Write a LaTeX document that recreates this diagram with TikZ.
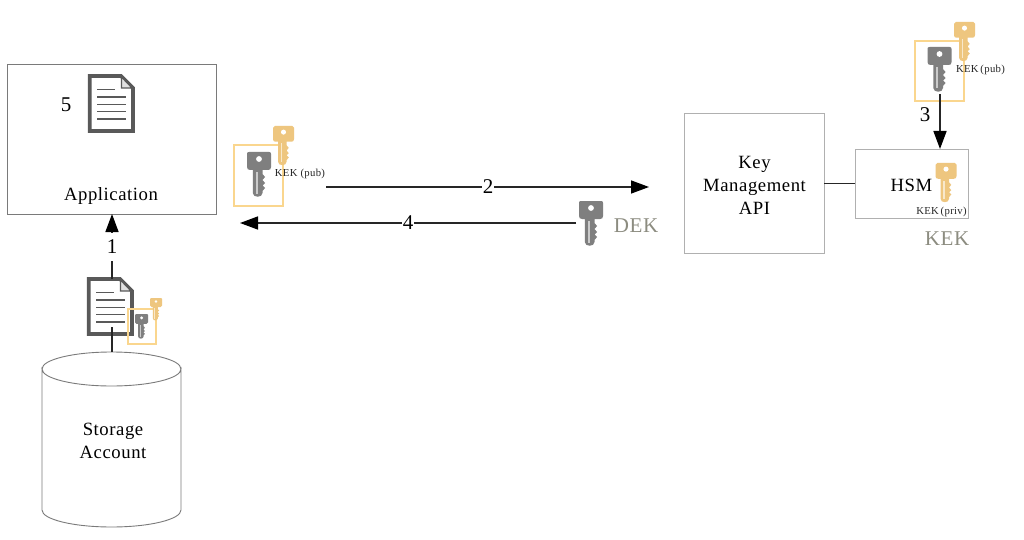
\documentclass[tikz,border=0pt]{standalone}
\usepackage{fontspec}
\setmainfont{Liberation Serif}[LetterSpace=3]
\usetikzlibrary{arrows.meta}
\definecolor{boxdark}{HTML}{7A7A7A}
\definecolor{boxlight}{HTML}{B0B0B0}
\definecolor{icondark}{HTML}{595959}
\definecolor{keygrey}{HTML}{7F7F7F}
\definecolor{keygold}{HTML}{EEC67F}
\definecolor{framegold}{HTML}{FAD68E}
\definecolor{dektext}{HTML}{8C8C80}
\tikzset{
  x=1pt,y=-1pt,
  every node/.style={inner sep=0pt,outer sep=0pt,align=center,text=black},
  mainlabel/.style={font=\fontsize{18.7}{23}\selectfont},
  steplabel/.style={font=\fontsize{21}{21}\selectfont,fill=white,inner xsep=1pt},
  smalllabel/.style={font=\fontsize{10.7}{11}\selectfont,text=black!85},
  greylabel/.style={font=\fontsize{21}{21}\selectfont,text=dektext},
  flow/.style={draw=black!85,line width=1.5pt,-{Triangle[length=18pt,width=13pt,color=black]}},
  plainline/.style={draw=black!85,line width=1.4pt},
  keyframe/.style={draw=framegold,line width=1.2pt},
  darkbox/.style={draw=boxdark,line width=.9pt,fill=white},
  lightbox/.style={draw=boxlight,line width=.9pt,fill=white},
  keyicon/.pic={
    \fill[pic actions] (2,0) -- (22,0) .. controls (23.5,0) and (24,0.5) .. (24,2)
      -- (24,15) .. controls (24,17) and (23,18) .. (21,18) -- (15.5,18)
      -- (15.5,22) -- (18,25) -- (15.5,28) -- (18,31) -- (15.5,33.5) -- (18,36) -- (15.5,39)
      -- (15.5,41) .. controls (15.5,46) and (5.8,46) .. (5.8,41)
      -- (5.8,18) -- (3,18) .. controls (1,18) and (0,17) .. (0,15)
      -- (0,2) .. controls (0,0.5) and (0.5,0) .. (2,0) -- cycle;
    \fill[white] (12,7) circle (2.9);
    \fill[white,opacity=.6] (8.8,20) rectangle (10.8,41.5);
  },
  doclines/.style={draw=icondark,line width=1.5pt},
}
\newcommand{\docicon}[3]{% name, left, top
  \begin{scope}[shift={(#2,#3)}]
    \coordinate (#1) at (23.5,28.5);
    \draw[icondark,line width=3.8pt,fill=white] (1.7,1) -- (33,1) -- (45,13) -- (45,56) -- (1.7,56) -- cycle;
    \draw[icondark,line width=1.2pt,fill=black!12] (33.5,2) -- (33.5,13) -- (44,13) -- cycle;
    \draw[doclines] (9,14.7) -- (27,14.7) (9,22) -- (38.3,22) (9,29.3) -- (38.3,29.3) (9,36.7) -- (38.3,36.7) (9,44) -- (38.3,44);
  \end{scope}
}
\begin{document}
\begin{tikzpicture}
\useasboundingbox (0,0) rectangle (1024,540);
\fill[white] (0,0) rectangle (1024,540);

% boxes
\node[darkbox,minimum width=209pt,minimum height=150pt] (app) at (111.5,139) {};
\node[lightbox,minimum width=140pt,minimum height=140pt] (kms) at (754,183) {};
\node[lightbox,minimum width=113pt,minimum height=69pt] (hsm) at (911.5,183.5) {};
\node[mainlabel] (applabel) at (111,196.5) {Application};
\node[mainlabel] (kmslabel) at (754.5,185) {Key\\Management\\API};
\node[mainlabel] (hsmlabel) at (911.5,185) {HSM};
\node[font=\fontsize{21}{21}\selectfont] (five) at (66,105) {5};

% storage cylinder
\draw[boxdark,line width=.9pt,fill=white] (42,369) arc[x radius=69.5,y radius=17,start angle=180,end angle=0]
  -- (181,510) arc[x radius=69.5,y radius=17,start angle=0,end angle=180] -- cycle;
\draw[boxdark,line width=.9pt] (42,369) arc[x radius=69.5,y radius=17,start angle=180,end angle=360];
\node[mainlabel] (storage) at (113,440.5) {Storage\\Account};
\coordinate (cyltop) at (112,352);

% documents
\docicon{docapp}{88}{75}
\docicon{docstore}{87}{278}
\coordinate (docstoretop) at (112,279);
\coordinate (docstorein) at (112,327);
\draw[plainline] (cyltop) -- (docstorein);

% key frames and keys
\node[keyframe,minimum width=49pt,minimum height=61pt] (framemid) at (258.5,175.5) {};
\node[keyframe,minimum width=49pt,minimum height=60pt] (frametop) at (939.5,71) {};
\node[keyframe,minimum width=28pt,minimum height=35pt] (framesmall) at (142,326.5) {};

\pic[fill=keygold,scale=.875] at (273,126) {keyicon};
\pic[fill=keygrey,scale=1] at (247,152) {keyicon};
\pic[fill=keygold,scale=.875] at (954,22) {keyicon};
\pic[fill=keygrey,scale=1] at (927.5,47) {keyicon};
\pic[fill=keygold,scale=.875] at (935.5,163) {keyicon};
\pic[fill=keygrey,scale=1] at (579,201) {keyicon};
\pic[fill=keygrey,scale=.55] at (135,314) {keyicon};
\pic[fill=keygold,scale=.5] at (150,298) {keyicon};

% key labels
\node[smalllabel] (kekpubone) at (300,173.5) {KEK (pub)};
\node[smalllabel] (kekpubtwo) at (980.5,69.5) {KEK\,(pub)};
\node[smalllabel] (kekpriv) at (941.5,211.5) {KEK\,(priv)};
\node[greylabel] (dek) at (636,225.5) {DEK};
\node[greylabel] (kek) at (947,238.5) {KEK};

% connector ends
\coordinate (twostart) at (326,187);
\coordinate (twoend) at (649,187);
\coordinate (fourstart) at (576,223);
\coordinate (fourend) at (240,223);
\coordinate (threestart) at (940,94);

% connectors
\draw[flow] (docstoretop) -- (app.south -| docstoretop)
  node[pos=.5,steplabel,minimum height=28pt] (lone) {1};
\draw[flow] (twostart) -- (twoend) node[pos=.502,steplabel] (ltwo) {2};
\draw[flow] (fourstart) -- (fourend) node[pos=.5,steplabel] (lfour) {4};
\draw[flow] (threestart) -- (threestart |- hsm.north);
\node[font=\fontsize{21}{21}\selectfont] (lthree) at (925,114.5) {3};
\draw[plainline] (kms.east |- hsm.west) -- (hsm.west);
\end{tikzpicture}
\end{document}
